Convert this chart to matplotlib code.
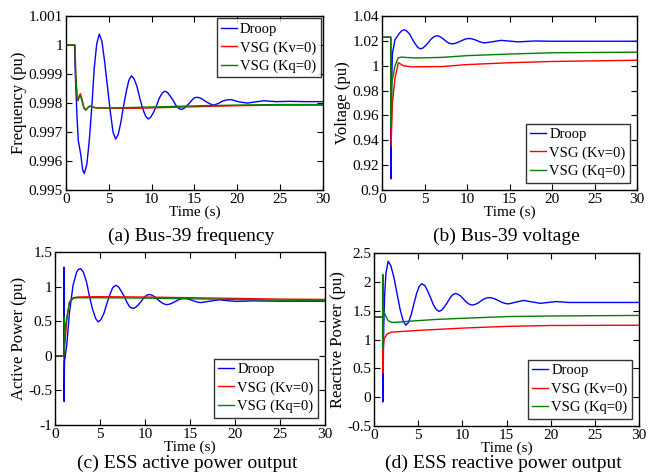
"""
Bus-39 / ESS response after the disturbance: droop vs VSG control
"""
import matplotlib
matplotlib.use("Agg")
import matplotlib.pyplot as plt
from matplotlib.ticker import FuncFormatter

plt.rcParams['font.family'] = ['Liberation Serif', 'DejaVu Serif']

names = ["Droop", "VSG (Kv=0)", "VSG (Kq=0)"]
colors = ["#0000ff", "#ff0000", "#008000"]

# (a) frequency
t_f_droop = [0, 1.0, 1.1, 1.3, 1.45, 1.75, 1.95, 2.15, 2.45, 2.75, 3.05, 3.3, 3.6, 3.9,
             4.2, 4.5, 4.85, 5.2, 5.5, 5.8, 6.1, 6.4, 6.7, 7.05, 7.35, 7.65,
             7.95, 8.3, 8.6, 8.95, 9.3, 9.6, 9.9, 10.25, 10.6, 10.9, 11.25, 11.55,
             11.85, 12.15, 12.5, 12.8, 13.15, 13.45, 13.75, 14.05, 14.4, 14.7, 15.0, 15.3,
             15.65, 15.95, 16.3, 16.65, 17.0, 17.3, 17.8, 18.3, 18.8, 19.3,
             20.2, 21.2, 22.1, 23.1, 24.5, 26, 28, 30]
f_droop = [1.0, 1.0, 0.9990, 0.9975, 0.9967, 0.9962, 0.9957, 0.99557, 0.99590, 0.99678, 0.99798,
           0.99918, 1.00005, 1.00038,
           1.00014, 0.99948, 0.99857, 0.99767, 0.99700, 0.99676,
           0.99691, 0.99731, 0.99785, 0.99840, 0.99879, 0.99894,
           0.99884, 0.99857, 0.99820, 0.99782, 0.99755, 0.99745,
           0.99751, 0.99769, 0.99793, 0.99817, 0.99835, 0.99841,
           0.99837, 0.99825, 0.99810, 0.99794, 0.99782, 0.99778,
           0.99781, 0.99789, 0.99799, 0.99810, 0.99818, 0.99820,
           0.99818, 0.99813, 0.99806, 0.99800, 0.99795, 0.99793, 0.99799, 0.99807, 0.99811, 0.99812,
           0.99804, 0.99800, 0.99804, 0.99808, 0.99805, 0.99806, 0.99805, 0.99805]
t_f_vsg = [0, 1.05, 1.15, 1.3, 1.4, 1.55, 1.7, 1.9, 2.1, 2.33, 2.6, 2.8, 3.5, 5, 8, 12, 16, 20, 25, 30]
f_kv = [1.0, 1.0, 0.9990, 0.9982, 0.99808, 0.99825, 0.99832, 0.9981, 0.99785, 0.99776, 0.99786,
        0.99790, 0.99783, 0.99782, 0.99782, 0.99785, 0.99788, 0.99791, 0.99793, 0.99793]
f_kq = [1.0, 1.0, 0.9990, 0.9982, 0.99810, 0.99820, 0.99825, 0.99805, 0.99782, 0.99776, 0.99785,
        0.99789, 0.99784, 0.99783, 0.99785, 0.99788, 0.99791, 0.99793, 0.99795, 0.99795]

# (b) voltage
t_v_droop = [0, 1.0, 1.04, 1.1, 1.2, 1.5, 2.0, 2.3, 2.6, 2.9, 3.25, 3.55, 3.9, 4.2, 4.5,
             4.8, 5.1, 5.45, 5.75, 6.1, 6.4, 6.7, 7.0, 7.3, 7.6, 7.9, 8.2,
             8.55, 8.85, 9.2, 9.55, 9.85, 10.2, 10.5, 10.85, 11.15, 11.45, 11.8, 12.1,
             13.05, 14.0, 15.0, 16.0, 18.0, 20.0, 30.0]
v_droop = [1.023, 1.023, 0.909, 0.985, 1.010, 1.021, 1.026, 1.0283, 1.029, 1.0280, 1.0252,
           1.02135, 1.0175, 1.0147, 1.0137,
           1.0144, 1.0163, 1.01895, 1.0216, 1.0235, 1.0242, 1.0238, 1.0226, 1.02095, 1.0193,
           1.0181, 1.0177,
           1.0180, 1.0188, 1.01985, 1.0209, 1.0217, 1.0220, 1.0218, 1.0211, 1.0203, 1.0194,
           1.0187, 1.0185,
           1.0195, 1.0205, 1.0199, 1.0193, 1.0200, 1.0198, 1.0198]
t_v_kv = [0, 1.0, 1.04, 1.2, 1.5, 1.9, 2.5, 3.5, 7, 10, 15, 20, 30]
v_kv = [1.023, 1.023, 0.935, 0.970, 0.990, 1.0025, 1.0000, 0.9992, 0.9994, 1.001, 1.0025, 1.0035, 1.0045]
t_v_kq = [0, 1.0, 1.04, 1.15, 1.5, 1.9, 2.2, 4, 7, 10, 15, 20, 30]
v_kq = [1.023, 1.023, 0.951, 0.987, 1.000, 1.0065, 1.0070, 1.0063, 1.0068, 1.0082, 1.0095, 1.0105, 1.011]

# (c) active power
t_p_droop = [0, 1.0, 1.0, 1.01, 1.05, 1.3, 1.6, 2.0, 2.4, 2.6, 2.85,
             3.15, 3.5, 3.8, 4.15, 4.5, 4.8, 5.1, 5.45, 5.75, 6.1, 6.4, 6.74,
             7.05, 7.35, 7.7, 8.0, 8.3, 8.63, 8.93, 9.25, 9.55, 9.85, 10.15, 10.44,
             10.75, 11.1, 11.4, 11.75, 12.1, 12.4, 12.7, 13.0, 13.35, 13.65, 14.0, 14.3,
             14.6, 14.95, 15.25, 15.6, 15.9, 16.2, 17.2, 18.2, 19.2, 20.1, 22, 25, 30]
p_droop = [0, 0, 1.28, -0.66, -0.08, 0.15, 0.62, 1.02, 1.21, 1.25, 1.26,
           1.208, 1.068, 0.875, 0.682, 0.542, 0.49, 0.525, 0.622, 0.755, 0.888, 0.985, 1.02,
           0.997, 0.936, 0.8525, 0.769, 0.707, 0.685, 0.699, 0.736, 0.7865, 0.837, 0.874, 0.888,
           0.878, 0.851, 0.814, 0.777, 0.750, 0.74, 0.746, 0.7625, 0.785, 0.8075, 0.824, 0.83,
           0.826, 0.815, 0.80, 0.785, 0.774, 0.77, 0.79, 0.81, 0.797, 0.787, 0.795, 0.79, 0.79]
t_p_kv = [0, 1.0, 1.05, 1.3, 1.6, 2.0, 2.5, 3, 5, 10, 15, 20, 25, 30]
p_kv = [0, 0, 0.1, 0.5, 0.78, 0.84, 0.85, 0.852, 0.855, 0.85, 0.84, 0.83, 0.82, 0.815]
t_p_kq = [0, 1.0, 1.03, 1.08, 1.3, 1.6, 2.0, 2.5, 3, 5, 10, 15, 20, 25, 30]
p_kq = [0, 0, 0.56, 0.33, 0.55, 0.77, 0.83, 0.84, 0.84, 0.84, 0.835, 0.825, 0.815, 0.805, 0.80]

# (d) reactive power
t_q_droop = [0, 1.0, 1.01, 1.1, 1.2, 1.35, 1.6, 1.9, 2.25, 2.6, 2.95, 3.3, 3.6,
             3.9, 4.2, 4.5, 4.8, 5.1, 5.4, 5.75, 6.05, 6.4, 6.7, 7.05, 7.36,
             7.65, 7.95, 8.3, 8.6, 8.9, 9.2, 9.5, 9.85, 10.15, 10.45, 10.8, 11.1,
             11.4, 11.75, 12.05, 12.35, 12.7, 13.0, 13.35, 13.75, 14.1, 14.45, 14.85, 15.2,
             16.05, 16.9, 17.85, 18.8, 19.7, 20.6, 22, 25, 30]
q_droop = [1.39, 1.39, -0.08, 1.2, 1.75, 2.15, 2.36, 2.286, 2.083, 1.805, 1.528, 1.324, 1.25,
           1.298, 1.43, 1.61, 1.79, 1.922, 1.97, 1.938, 1.85, 1.73, 1.61, 1.522, 1.49,
           1.511, 1.567, 1.645, 1.722, 1.779, 1.80, 1.787, 1.75, 1.70, 1.65, 1.613, 1.60,
           1.609, 1.6325, 1.665, 1.6975, 1.721, 1.73, 1.723, 1.7025, 1.675, 1.6475, 1.627, 1.62,
           1.65, 1.68, 1.655, 1.63, 1.645, 1.66, 1.645, 1.645, 1.645]
t_q_kv = [0, 1.0, 1.01, 1.05, 1.15, 1.3, 1.5, 2.0, 3, 5, 10, 15, 20, 30]
q_kv = [1.39, 1.39, 0.42, 0.87, 1.02, 1.05, 1.10, 1.13, 1.14, 1.16, 1.20, 1.23, 1.245, 1.25]
t_q_kq = [0, 1.0, 1.0, 1.01, 1.05, 1.1, 1.3, 1.6, 2.0, 2.5, 4, 7, 10, 15, 20, 30]
q_kq = [1.39, 1.39, 2.13, 0.85, 1.60, 1.50, 1.42, 1.33, 1.30, 1.30, 1.32, 1.35, 1.37, 1.40, 1.41, 1.42]

panels = [
    dict(pos=[0.100, 0.600, 0.390, 0.366], ylim=(0.995, 1.001), yticks=[0.995, 0.996, 0.997, 0.998, 0.999, 1.0, 1.001],
         ylabel="Frequency (pu)", caption="(a) Bus-39 frequency", cap_y=0.503, loc="upper right",
         series=[(t_f_droop, f_droop), (t_f_vsg, f_kv), (t_f_vsg, f_kq)]),
    dict(pos=[0.580, 0.600, 0.387, 0.366], ylim=(0.9, 1.04), yticks=[0.9, 0.92, 0.94, 0.96, 0.98, 1.0, 1.02, 1.04],
         ylabel="Voltage (pu)", caption="(b) Bus-39 voltage", cap_y=0.503, loc="lower right",
         series=[(t_v_droop, v_droop), (t_v_kv, v_kv), (t_v_kq, v_kq)]),
    dict(pos=[0.0835, 0.1053, 0.410, 0.364], ylim=(-1, 1.5), yticks=[-1, -0.5, 0, 0.5, 1, 1.5],
         ylabel="Active Power (pu)", caption="(c) ESS active power output", cap_y=0.025, loc="lower right",
         series=[(t_p_droop, p_droop), (t_p_kv, p_kv), (t_p_kq, p_kq)]),
    dict(pos=[0.5675, 0.103, 0.4025, 0.364], ylim=(-0.5, 2.5), yticks=[-0.5, 0, 0.5, 1, 1.5, 2, 2.5],
         ylabel="Reactive Power (pu)", caption="(d) ESS reactive power output", cap_y=0.025, loc="lower right",
         series=[(t_q_droop, q_droop), (t_q_kv, q_kv), (t_q_kq, q_kq)]),
]

fig = plt.figure(figsize=(6.59, 4.75), dpi=100)

for p in panels:
    ax = fig.add_axes(p["pos"])
    for (t, y), c, n in zip(p["series"], colors, names):
        ax.plot(t, y, color=c, lw=1.0, label=n)
    ax.set_xlim(0, 30)
    ax.set_ylim(*p["ylim"])
    ax.set_xticks([0, 5, 10, 15, 20, 25, 30])
    ax.set_yticks(p["yticks"])
    ax.yaxis.set_major_formatter(FuncFormatter(lambda v, _: "%g" % round(v, 4)))
    ax.tick_params(direction="in", top=True, right=True, length=4, width=0.8, labelsize=11, pad=2)
    for s in ax.spines.values():
        s.set_linewidth(1.0)
    ax.set_xlabel("Time (s)", fontsize=11, labelpad=0)
    ax.set_ylabel(p["ylabel"], fontsize=12, labelpad=1)
    leg = ax.legend(loc=p["loc"], fontsize=10.5, frameon=True, fancybox=False, edgecolor="black",
                    handlelength=1.1, handletextpad=0.2, labelspacing=0.35, borderpad=0.3,
                    borderaxespad=0.5 if p["loc"] == "lower right" else 0.15)
    leg.get_frame().set_linewidth(1.0)
    # caption under the axes
    x0, y0, w, h = p["pos"]
    fig.text(x0 + w / 2 - 0.005, p["cap_y"], p["caption"], ha="center", va="center", fontsize=14)

fig.savefig("out.png", dpi=100)
